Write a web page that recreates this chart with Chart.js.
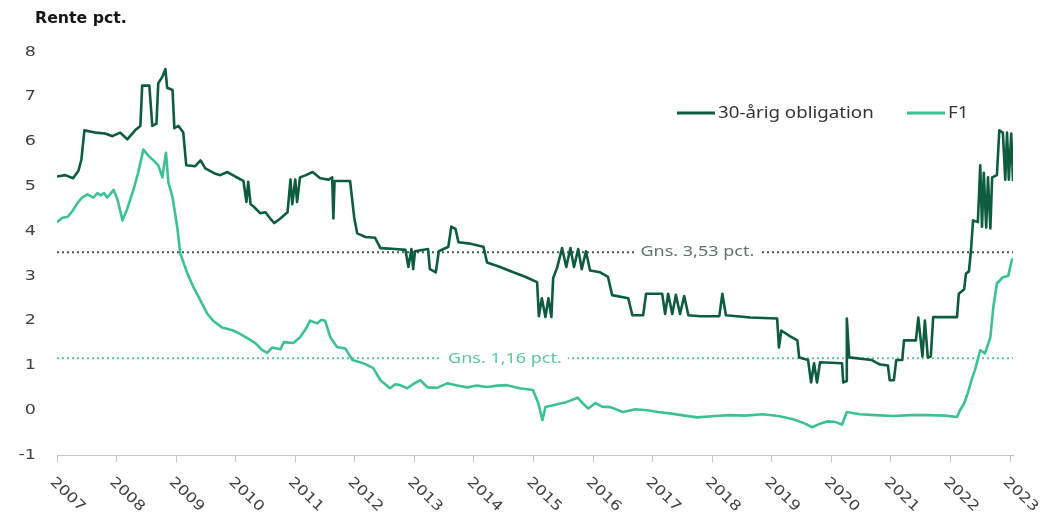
<!DOCTYPE html>
<html lang="da">
<head>
<meta charset="utf-8">
<title>Rente pct.</title>
<script src="https://cdn.jsdelivr.net/npm/chart.js@4.4.1/dist/chart.umd.min.js"></script>
<style>
  html, body { margin: 0; padding: 0; background: #fff; }
  #wrap { width: 1050px; height: 520px; }
</style>
</head>
<body>
<div id="wrap"><canvas id="myChart" width="1050" height="520"></canvas></div>
<script>
// tick labels
var yearTicks = [2007, 2008, 2009, 2010, 2011, 2012, 2013, 2014, 2015, 2016, 2017, 2018, 2019, 2020, 2021, 2022, 2023];
var rateTicks = [-1, 0, 1, 2, 3, 4, 5, 6, 7, 8];

// 30-årig obligation
var bondYears = [2007.00, 2007.14, 2007.27, 2007.36, 2007.41, 2007.46, 2007.64, 2007.81, 2007.93, 2008.06,
  2008.18, 2008.31, 2008.40, 2008.43, 2008.55, 2008.60, 2008.67, 2008.70, 2008.77, 2008.82,
  2008.85, 2008.94, 2008.97, 2009.04, 2009.12, 2009.17, 2009.32, 2009.41, 2009.49, 2009.66,
  2009.74, 2009.86, 2009.99, 2010.13, 2010.18, 2010.21, 2010.25, 2010.30, 2010.41, 2010.50,
  2010.58, 2010.65, 2010.75, 2010.87, 2010.92, 2010.95, 2011.00, 2011.03, 2011.08, 2011.18,
  2011.29, 2011.42, 2011.56, 2011.62, 2011.64, 2011.66, 2011.92, 2011.99, 2012.04, 2012.18,
  2012.34, 2012.43, 2012.68, 2012.85, 2012.90, 2012.95, 2012.98, 2013.01, 2013.23, 2013.26,
  2013.36, 2013.41, 2013.57, 2013.62, 2013.69, 2013.74, 2013.94, 2014.16, 2014.22, 2014.44,
  2014.66, 2014.86, 2015.06, 2015.09, 2015.14, 2015.20, 2015.25, 2015.30, 2015.33, 2015.40,
  2015.48, 2015.55, 2015.62, 2015.68, 2015.75, 2015.81, 2015.88, 2015.95, 2016.12, 2016.25,
  2016.32, 2016.59, 2016.66, 2016.84, 2016.89, 2017.16, 2017.21, 2017.26, 2017.33, 2017.39,
  2017.46, 2017.53, 2017.60, 2017.80, 2018.12, 2018.17, 2018.23, 2018.64, 2019.09, 2019.12,
  2019.16, 2019.31, 2019.43, 2019.46, 2019.61, 2019.66, 2019.71, 2019.76, 2019.81, 2020.18,
  2020.20, 2020.25, 2020.26, 2020.30, 2020.68, 2020.82, 2020.95, 2020.98, 2021.05, 2021.09,
  2021.19, 2021.22, 2021.42, 2021.46, 2021.53, 2021.57, 2021.62, 2021.67, 2021.71, 2022.11,
  2022.14, 2022.23, 2022.26, 2022.31, 2022.34, 2022.38, 2022.46, 2022.50, 2022.53, 2022.56,
  2022.60, 2022.63, 2022.67, 2022.70, 2022.78, 2022.82, 2022.88, 2022.92, 2022.95, 2022.98,
  2023.02, 2023.05];
var bondValues = [5.22, 5.25, 5.18, 5.35, 5.6, 6.25, 6.2, 6.18, 6.12, 6.2,
  6.05, 6.25, 6.35, 7.25, 7.25, 6.35, 6.4, 7.3, 7.45, 7.62,
  7.2, 7.15, 6.3, 6.35, 6.2, 5.47, 5.45, 5.58, 5.4, 5.28,
  5.25, 5.32, 5.22, 5.12, 4.65, 5.1, 4.6, 4.55, 4.4, 4.42,
  4.28, 4.18, 4.28, 4.42, 5.15, 4.6, 5.15, 4.65, 5.2, 5.25,
  5.32, 5.18, 5.15, 5.2, 4.28, 5.12, 5.12, 4.3, 3.95, 3.87,
  3.85, 3.62, 3.6, 3.58, 3.2, 3.6, 3.15, 3.55, 3.6, 3.15,
  3.08, 3.55, 3.65, 4.1, 4.05, 3.75, 3.72, 3.65, 3.3, 3.2,
  3.08, 2.98, 2.86, 2.1, 2.5, 2.08, 2.5, 2.08, 2.95, 3.2,
  3.62, 3.2, 3.62, 3.2, 3.6, 3.15, 3.55, 3.12, 3.08, 2.98,
  2.57, 2.5, 2.12, 2.12, 2.6, 2.6, 2.15, 2.6, 2.15, 2.58,
  2.15, 2.55, 2.12, 2.1, 2.1, 2.6, 2.12, 2.07, 2.05, 1.4,
  1.78, 1.65, 1.56, 1.18, 1.12, 0.62, 1.05, 0.62, 1.07, 1.05,
  0.62, 0.65, 2.05, 1.18, 1.12, 1.02, 1.0, 0.67, 0.67, 1.12,
  1.12, 1.56, 1.56, 2.07, 1.2, 2.0, 1.18, 1.2, 2.08, 2.08,
  2.6, 2.7, 3.05, 3.1, 3.5, 4.24, 4.2, 5.47, 4.1, 5.3,
  4.08, 5.2, 4.06, 5.2, 5.25, 6.25, 6.2, 5.15, 6.2, 5.15,
  6.18, 5.12];

// F1
var f1Years = [2007.00, 2007.09, 2007.18, 2007.26, 2007.34, 2007.42, 2007.51, 2007.61, 2007.68, 2007.73,
  2007.79, 2007.84, 2007.89, 2007.95, 2008.01, 2008.10, 2008.18, 2008.28, 2008.36, 2008.45,
  2008.53, 2008.62, 2008.70, 2008.77, 2008.80, 2008.83, 2008.87, 2008.94, 2009.02, 2009.07,
  2009.19, 2009.29, 2009.41, 2009.52, 2009.62, 2009.77, 2009.96, 2010.08, 2010.21, 2010.33,
  2010.44, 2010.53, 2010.61, 2010.75, 2010.81, 2010.97, 2011.08, 2011.17, 2011.25, 2011.37,
  2011.44, 2011.50, 2011.59, 2011.70, 2011.84, 2011.96, 2012.14, 2012.31, 2012.43, 2012.59,
  2012.68, 2012.76, 2012.88, 2013.00, 2013.10, 2013.22, 2013.38, 2013.55, 2013.72, 2013.89,
  2014.05, 2014.22, 2014.39, 2014.55, 2014.77, 2014.99, 2015.08, 2015.15, 2015.20, 2015.33,
  2015.45, 2015.55, 2015.74, 2015.83, 2015.92, 2016.04, 2016.15, 2016.29, 2016.50, 2016.71,
  2016.91, 2017.09, 2017.29, 2017.54, 2017.75, 2018.05, 2018.30, 2018.55, 2018.85, 2019.11,
  2019.36, 2019.56, 2019.68, 2019.81, 2019.93, 2020.06, 2020.18, 2020.26, 2020.35, 2020.48,
  2020.73, 2021.04, 2021.32, 2021.61, 2021.91, 2022.11, 2022.16, 2022.23, 2022.29, 2022.36,
  2022.41, 2022.50, 2022.58, 2022.67, 2022.72, 2022.78, 2022.88, 2022.97, 2023.03, 2023.05];
var f1Values = [4.2, 4.3, 4.32, 4.45, 4.62, 4.75, 4.82, 4.75, 4.85, 4.8,
  4.85, 4.75, 4.82, 4.92, 4.73, 4.24, 4.5, 4.91, 5.29, 5.82,
  5.69, 5.58, 5.47, 5.2, 5.5, 5.75, 5.09, 4.75, 4.08, 3.5,
  3.05, 2.75, 2.45, 2.16, 2.0, 1.85, 1.78, 1.7, 1.6, 1.5,
  1.35, 1.28, 1.4, 1.36, 1.52, 1.5, 1.63, 1.8, 2.0, 1.94,
  2.02, 2.0, 1.63, 1.41, 1.38, 1.12, 1.05, 0.94, 0.67, 0.49,
  0.58, 0.56, 0.49, 0.6, 0.67, 0.51, 0.5, 0.6, 0.55, 0.51,
  0.55, 0.52, 0.55, 0.56, 0.49, 0.45, 0.16, -0.22, 0.07, 0.11,
  0.15, 0.18, 0.28, 0.15, 0.04, 0.16, 0.08, 0.07, -0.04, 0.02,
  0.0, -0.04, -0.07, -0.12, -0.16, -0.13, -0.11, -0.12, -0.09, -0.13,
  -0.2, -0.3, -0.38, -0.3, -0.25, -0.26, -0.32, -0.04, -0.06, -0.09,
  -0.11, -0.13, -0.11, -0.11, -0.12, -0.15, 0.0, 0.15, 0.38, 0.7,
  0.89, 1.34, 1.27, 1.63, 2.3, 2.83, 2.97, 3.0, 3.35, 3.39];

// averages
var avgBond = 3.53;
var avgF1 = 1.16;
var seriesNames = ['30-årig obligation', 'F1'];
var avgLabels = ['Gns. 3,53 pct.', 'Gns. 1,16 pct.'];

var darkGreen = '#0d5c3d';
var lightGreen = '#3dc192';

function toPoints(xs, ys) {
    return xs.map(function (x, i) { return { x: x, y: ys[i] }; });
}

// text drawn a bit wider than the font, like the original
function drawText(ctx, str, x, y, font, color, align, sx, rot) {
    ctx.save();
    ctx.translate(x, y);
    if (rot) ctx.rotate(rot);
    ctx.scale(sx || 1, 1);
    ctx.font = font;
    ctx.fillStyle = color;
    ctx.textAlign = align || 'left';
    ctx.textBaseline = 'middle';
    ctx.fillText(str, 0, 0);
    ctx.restore();
}

const extras = {
    id: 'extras',
    afterDatasetsDraw(chart) {
        const ctx = chart.ctx;
        const xs = chart.scales.x, ys = chart.scales.y;
        // average labels on a white gap
        var labs = [
            { text: avgLabels[0], at: 2017.75, v: avgBond, color: '#5f7368' },
            { text: avgLabels[1], at: 2014.52, v: avgF1, color: '#5cc79c' }
        ];
        labs.forEach(function (l) {
            ctx.save();
            ctx.font = '15px "Noto Sans"';
            var w = ctx.measureText(l.text).width * 1.2;
            var px = xs.getPixelForValue(l.at), py = ys.getPixelForValue(l.v);
            ctx.fillStyle = '#fff';
            ctx.fillRect(px - w / 2 - 6, py - 9, w + 12, 18);
            ctx.restore();
            drawText(ctx, l.text, px, py, '15px "Noto Sans"', l.color, 'center', 1.2);
        });
    },
    afterDraw(chart) {
        const ctx = chart.ctx;
        const xs = chart.scales.x, ys = chart.scales.y;
        const area = chart.chartArea;
        // title
        drawText(ctx, 'Rente pct.', 35, 19, 'bold 15px "DejaVu Sans"', '#161616', 'left', 1.05);
        // y tick labels
        rateTicks.forEach(function (v) {
            drawText(ctx, String(v), 36, ys.getPixelForValue(v), '14px "DejaVu Sans"', '#404040', 'right', 1.25);
        });
        // x tick labels, turned down to the right
        yearTicks.forEach(function (yr) {
            drawText(ctx, String(yr), xs.getPixelForValue(yr) - 5, area.bottom + 25,
                '14px "DejaVu Sans"', '#404040', 'left', 1.2, 0.76);
        });
        // legend
        var items = [
            { name: seriesNames[0], color: darkGreen, x: 677 },
            { name: seriesNames[1], color: lightGreen, x: 907 }
        ];
        items.forEach(function (it) {
            ctx.save();
            ctx.strokeStyle = it.color;
            ctx.lineWidth = 3;
            ctx.beginPath();
            ctx.moveTo(it.x, 113);
            ctx.lineTo(it.x + 38, 113);
            ctx.stroke();
            ctx.restore();
            drawText(ctx, it.name, it.x + 41, 113, '17px "Noto Sans"', '#333', 'left', 1.1);
        });
    }
};

const ctx = document.getElementById('myChart');
const myChart = new Chart(ctx, {
    type: 'line',
    data: {
        datasets: [{
            label: seriesNames[0],
            data: toPoints(bondYears, bondValues),
            borderColor: darkGreen,
            borderWidth: 2.6,
            pointRadius: 0,
            tension: 0,
            borderJoinStyle: 'round'
        }, {
            label: seriesNames[1],
            data: toPoints(f1Years, f1Values),
            borderColor: lightGreen,
            borderWidth: 2.6,
            pointRadius: 0,
            tension: 0,
            borderJoinStyle: 'round'
        }, {
            label: avgLabels[0],
            data: [{ x: yearTicks[0], y: avgBond }, { x: 2023.05, y: avgBond }],
            borderColor: '#3f5a4d',
            borderWidth: 2,
            borderDash: [2, 3],
            pointRadius: 0
        }, {
            label: avgLabels[1],
            data: [{ x: yearTicks[0], y: avgF1 }, { x: 2023.05, y: avgF1 }],
            borderColor: '#55c99b',
            borderWidth: 2,
            borderDash: [2, 3],
            pointRadius: 0
        }]
    },
    options: {
        responsive: false,
        animation: false,
        events: [],
        layout: { padding: { top: 52, right: 37, left: 0, bottom: 0 } },
        plugins: {
            legend: { display: false },
            tooltip: { enabled: false }
        },
        scales: {
            x: {
                type: 'linear',
                min: 2007,
                max: 2023.05,
                afterBuildTicks: function (s) { s.ticks = yearTicks.map(function (v) { return { value: v }; }); },
                afterFit: function (s) { s.height = 65; },
                ticks: { display: false },
                grid: { display: true, drawOnChartArea: false, drawTicks: true, tickLength: 7, color: '#c4c4c4' },
                border: { display: true, color: '#c4c4c4' }
            },
            y: {
                min: -1,
                max: 8,
                afterBuildTicks: function (s) { s.ticks = rateTicks.map(function (v) { return { value: v }; }); },
                afterFit: function (s) { s.width = 57; },
                ticks: { display: false },
                grid: { display: false },
                border: { display: false }
            }
        }
    },
    plugins: [extras]
});
</script>
</body>
</html>
